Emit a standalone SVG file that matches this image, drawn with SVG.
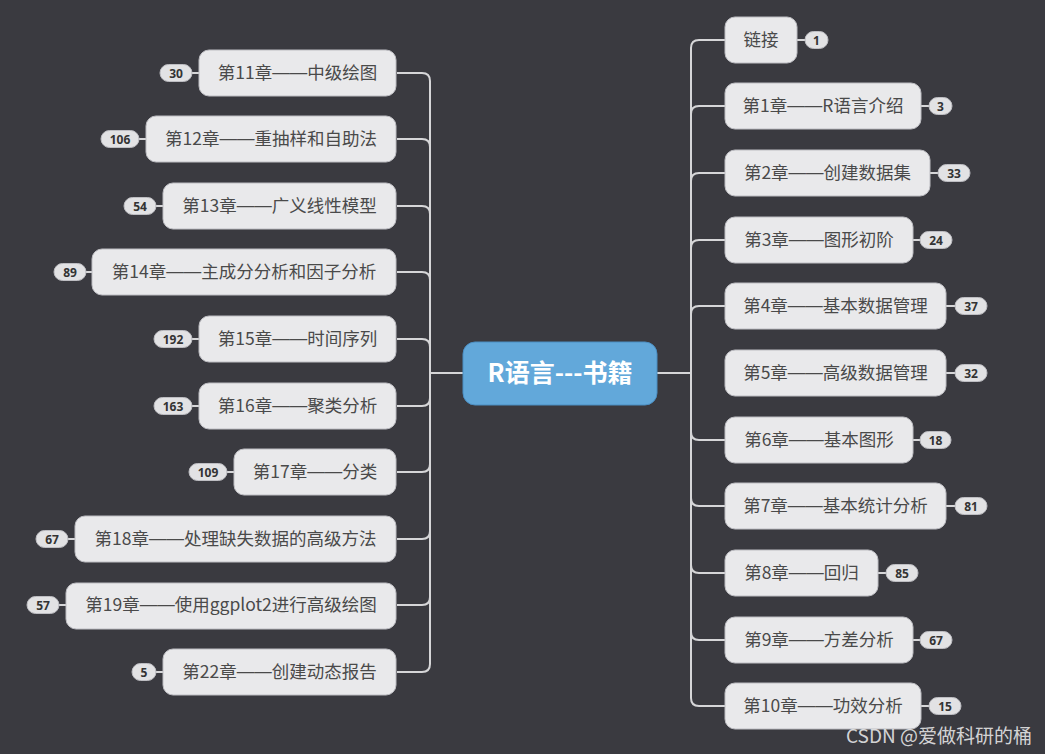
<svg xmlns="http://www.w3.org/2000/svg" width="1045" height="754" viewBox="0 0 1045 754">
<style>
.bg{fill:#3a3a40}
.conn path,.conn line{fill:none;stroke:#d6d6d8;stroke-width:2}
.node rect{fill:#e9e9eb;stroke:#bdbdc2;stroke-width:1}
.node text{font-family:"Noto Sans CJK SC","Microsoft YaHei",sans-serif;font-size:17.5px;fill:#4a4a4a;text-anchor:middle}
.node tspan.d{font-family:"Liberation Sans",sans-serif}
.badge rect{fill:#e2e2e4;stroke:#bdbdc2;stroke-width:1}
.badge text{font-family:"Noto Sans","DejaVu Sans",sans-serif;font-size:12px;font-weight:bold;fill:#333;text-anchor:middle}
.center rect{fill:#62a8da;stroke:#4b8ec2;stroke-width:1}
.center text{font-family:"Noto Sans CJK SC",sans-serif;font-size:25px;font-weight:bold;fill:#ffffff;text-anchor:middle}
.wm{font-family:"Noto Sans CJK SC",sans-serif;font-size:19px;fill:#e8e8e8;fill-opacity:0.9}
</style>
<rect class="bg" x="0" y="0" width="1045" height="754"/>
<g class="conn" id="connectors">
<line x1="430" y1="373" x2="463" y2="373"/>
<line x1="657" y1="373" x2="691" y2="373"/>
<path d="M430,373 V81 Q430,73 422,73 H397"/>
<path d="M430,373 V147 Q430,139 422,139 H397"/>
<path d="M430,373 V214 Q430,206 422,206 H397"/>
<path d="M430,373 V280 Q430,272 422,272 H397"/>
<path d="M430,373 V347 Q430,339 422,339 H397"/>
<path d="M430,373 V398 Q430,406 422,406 H397"/>
<path d="M430,373 V464 Q430,472 422,472 H397"/>
<path d="M430,373 V531 Q430,539 422,539 H397"/>
<path d="M430,373 V597 Q430,605 422,605 H397"/>
<path d="M430,373 V664 Q430,672 422,672 H397"/>
<path d="M691,373 V48 Q691,40 699,40 H725"/>
<path d="M691,373 V114 Q691,106 699,106 H725"/>
<path d="M691,373 V181 Q691,173 699,173 H725"/>
<path d="M691,373 V248 Q691,240 699,240 H725"/>
<path d="M691,373 V314 Q691,306 699,306 H725"/>
<path d="M691,373 V432 Q691,440 699,440 H725"/>
<path d="M691,373 V498 Q691,506 699,506 H725"/>
<path d="M691,373 V565 Q691,573 699,573 H725"/>
<path d="M691,373 V632 Q691,640 699,640 H725"/>
<path d="M691,373 V698 Q691,706 699,706 H725"/>
<line x1="192" y1="73" x2="199" y2="73"/>
<line x1="139" y1="139" x2="146" y2="139"/>
<line x1="156" y1="206" x2="163" y2="206"/>
<line x1="86" y1="272" x2="92" y2="272"/>
<line x1="192" y1="339" x2="199" y2="339"/>
<line x1="192" y1="406" x2="199" y2="406"/>
<line x1="227" y1="472" x2="234" y2="472"/>
<line x1="68" y1="539" x2="75" y2="539"/>
<line x1="59" y1="605" x2="66" y2="605"/>
<line x1="156" y1="672" x2="163" y2="672"/>
<line x1="797" y1="40" x2="805" y2="40"/>
<line x1="921" y1="106" x2="929" y2="106"/>
<line x1="930" y1="173" x2="938" y2="173"/>
<line x1="913" y1="240" x2="920" y2="240"/>
<line x1="946" y1="306" x2="955" y2="306"/>
<line x1="946" y1="373" x2="955" y2="373"/>
<line x1="913" y1="440" x2="920" y2="440"/>
<line x1="946" y1="506" x2="955" y2="506"/>
<line x1="878" y1="573" x2="886" y2="573"/>
<line x1="913" y1="640" x2="920" y2="640"/>
<line x1="921" y1="706" x2="929" y2="706"/>
</g>
<g class="center" id="root"><rect x="463" y="342" width="194" height="63" rx="12"/><text x="560" y="382">R语言---书籍</text></g>
<g class="node" id="n11"><rect x="199" y="50" width="197" height="46" rx="10"/><text x="297.5" y="79">第11章<tspan class="d" dy="-1">——</tspan><tspan dy="1">中级绘图</tspan></text></g>
<g class="badge" id="b11"><rect x="160" y="64.5" width="32" height="17" rx="8.5"/><text x="176" y="77.5">30</text></g>
<g class="node" id="n12"><rect x="146" y="116" width="250" height="46" rx="10"/><text x="271" y="145">第12章<tspan class="d" dy="-1">——</tspan><tspan dy="1">重抽样和自助法</tspan></text></g>
<g class="badge" id="b12"><rect x="101" y="130.5" width="38" height="17" rx="8.5"/><text x="120" y="143.5">106</text></g>
<g class="node" id="n13"><rect x="163" y="183" width="233" height="46" rx="10"/><text x="279.5" y="212">第13章<tspan class="d" dy="-1">——</tspan><tspan dy="1">广义线性模型</tspan></text></g>
<g class="badge" id="b13"><rect x="124" y="197.5" width="32" height="17" rx="8.5"/><text x="140" y="210.5">54</text></g>
<g class="node" id="n14"><rect x="92" y="249" width="304" height="46" rx="10"/><text x="244" y="278">第14章<tspan class="d" dy="-1">——</tspan><tspan dy="1">主成分分析和因子分析</tspan></text></g>
<g class="badge" id="b14"><rect x="54" y="263.5" width="32" height="17" rx="8.5"/><text x="70" y="276.5">89</text></g>
<g class="node" id="n15"><rect x="199" y="316" width="197" height="46" rx="10"/><text x="297.5" y="345">第15章<tspan class="d" dy="-1">——</tspan><tspan dy="1">时间序列</tspan></text></g>
<g class="badge" id="b15"><rect x="154" y="330.5" width="38" height="17" rx="8.5"/><text x="173" y="343.5">192</text></g>
<g class="node" id="n16"><rect x="199" y="383" width="197" height="46" rx="10"/><text x="297.5" y="412">第16章<tspan class="d" dy="-1">——</tspan><tspan dy="1">聚类分析</tspan></text></g>
<g class="badge" id="b16"><rect x="154" y="397.5" width="38" height="17" rx="8.5"/><text x="173" y="410.5">163</text></g>
<g class="node" id="n17"><rect x="234" y="449" width="162" height="46" rx="10"/><text x="315" y="478">第17章<tspan class="d" dy="-1">——</tspan><tspan dy="1">分类</tspan></text></g>
<g class="badge" id="b17"><rect x="189" y="463.5" width="38" height="17" rx="8.5"/><text x="208" y="476.5">109</text></g>
<g class="node" id="n18"><rect x="75" y="516" width="321" height="46" rx="10"/><text x="235.5" y="545">第18章<tspan class="d" dy="-1">——</tspan><tspan dy="1">处理缺失数据的高级方法</tspan></text></g>
<g class="badge" id="b18"><rect x="36" y="530.5" width="32" height="17" rx="8.5"/><text x="52" y="543.5">67</text></g>
<g class="node" id="n19"><rect x="66" y="583" width="330" height="46" rx="10"/><text x="231" y="611">第19章<tspan class="d" dy="-1">——</tspan><tspan dy="1">使用ggplot2进行高级绘图</tspan></text></g>
<g class="badge" id="b19"><rect x="27" y="596.5" width="32" height="17" rx="8.5"/><text x="43" y="609.5">57</text></g>
<g class="node" id="n22"><rect x="163" y="649" width="233" height="46" rx="10"/><text x="279.5" y="678">第22章<tspan class="d" dy="-1">——</tspan><tspan dy="1">创建动态报告</tspan></text></g>
<g class="badge" id="b22"><rect x="132" y="663.5" width="24" height="17" rx="8.5"/><text x="144" y="676.5">5</text></g>
<g class="node" id="nlink"><rect x="725" y="17" width="72" height="46" rx="10"/><text x="761" y="46">链接</text></g>
<g class="badge" id="blink"><rect x="805" y="31.5" width="23" height="17" rx="8.5"/><text x="816.5" y="44.5">1</text></g>
<g class="node" id="n1"><rect x="725" y="83" width="196" height="46" rx="10"/><text x="823" y="112">第1章<tspan class="d" dy="-1">——</tspan><tspan dy="1">R语言介绍</tspan></text></g>
<g class="badge" id="b1"><rect x="929" y="97.5" width="23" height="17" rx="8.5"/><text x="940.5" y="110.5">3</text></g>
<g class="node" id="n2"><rect x="725" y="150" width="205" height="46" rx="10"/><text x="827.5" y="179">第2章<tspan class="d" dy="-1">——</tspan><tspan dy="1">创建数据集</tspan></text></g>
<g class="badge" id="b2"><rect x="938" y="164.5" width="32" height="17" rx="8.5"/><text x="954" y="177.5">33</text></g>
<g class="node" id="n3"><rect x="725" y="217" width="188" height="46" rx="10"/><text x="819" y="246">第3章<tspan class="d" dy="-1">——</tspan><tspan dy="1">图形初阶</tspan></text></g>
<g class="badge" id="b3"><rect x="920" y="231.5" width="32" height="17" rx="8.5"/><text x="936" y="244.5">24</text></g>
<g class="node" id="n4"><rect x="725" y="283" width="221" height="46" rx="10"/><text x="835.5" y="312">第4章<tspan class="d" dy="-1">——</tspan><tspan dy="1">基本数据管理</tspan></text></g>
<g class="badge" id="b4"><rect x="955" y="297.5" width="32" height="17" rx="8.5"/><text x="971" y="310.5">37</text></g>
<g class="node" id="n5"><rect x="725" y="350" width="221" height="46" rx="10"/><text x="835.5" y="379">第5章<tspan class="d" dy="-1">——</tspan><tspan dy="1">高级数据管理</tspan></text></g>
<g class="badge" id="b5"><rect x="955" y="364.5" width="32" height="17" rx="8.5"/><text x="971" y="377.5">32</text></g>
<g class="node" id="n6"><rect x="725" y="417" width="188" height="46" rx="10"/><text x="819" y="446">第6章<tspan class="d" dy="-1">——</tspan><tspan dy="1">基本图形</tspan></text></g>
<g class="badge" id="b6"><rect x="920" y="431.5" width="31" height="17" rx="8.5"/><text x="935.5" y="444.5">18</text></g>
<g class="node" id="n7"><rect x="725" y="483" width="221" height="46" rx="10"/><text x="835.5" y="512">第7章<tspan class="d" dy="-1">——</tspan><tspan dy="1">基本统计分析</tspan></text></g>
<g class="badge" id="b7"><rect x="955" y="497.5" width="32" height="17" rx="8.5"/><text x="971" y="510.5">81</text></g>
<g class="node" id="n8"><rect x="725" y="550" width="153" height="46" rx="10"/><text x="801.5" y="579">第8章<tspan class="d" dy="-1">——</tspan><tspan dy="1">回归</tspan></text></g>
<g class="badge" id="b8"><rect x="886" y="564.5" width="32" height="17" rx="8.5"/><text x="902" y="577.5">85</text></g>
<g class="node" id="n9"><rect x="725" y="617" width="188" height="46" rx="10"/><text x="819" y="646">第9章<tspan class="d" dy="-1">——</tspan><tspan dy="1">方差分析</tspan></text></g>
<g class="badge" id="b9"><rect x="920" y="631.5" width="32" height="17" rx="8.5"/><text x="936" y="644.5">67</text></g>
<g class="node" id="n10"><rect x="725" y="683" width="196" height="46" rx="10"/><text x="823" y="712">第10章<tspan class="d" dy="-1">——</tspan><tspan dy="1">功效分析</tspan></text></g>
<g class="badge" id="b10"><rect x="929" y="697.5" width="32" height="17" rx="8.5"/><text x="945" y="710.5">15</text></g>
<text class="wm" x="846" y="743">CSDN @爱做科研的桶</text>
</svg>
